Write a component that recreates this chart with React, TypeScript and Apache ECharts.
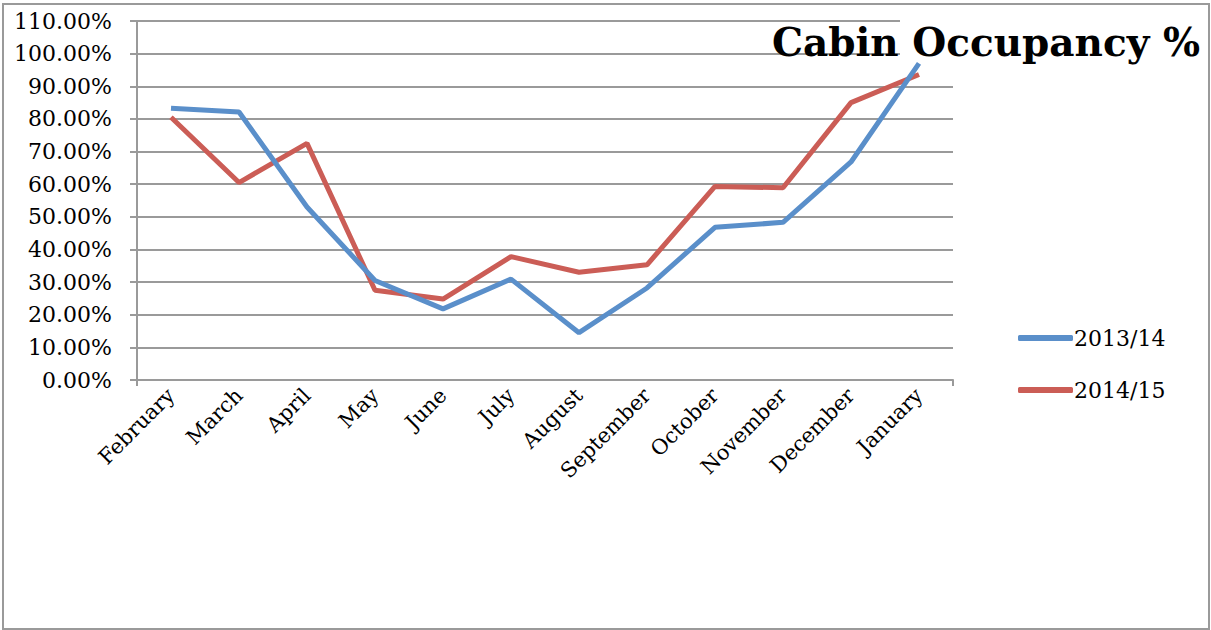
import React, { useEffect, useRef } from "react";
import * as echarts from "echarts";

const categories = [
  "February", "March", "April", "May", "June", "July",
  "August", "September", "October", "November", "December", "January",
];
const series2013 = [83.3, 82.1, 53.0, 30.5, 21.8, 30.9, 14.5, 28.2, 46.8, 48.3, 66.8, 97.0];
const series2014 = [80.5, 60.5, 72.5, 27.5, 24.8, 37.8, 33.0, 35.3, 59.3, 58.9, 85.0, 93.6];
const seriesNames = ["2013/14", "2014/15"];
const colors = ["#5A8FCA", "#CB5D56"];
const titleText = "Cabin Occupancy %";

const FONT = "DejaVu Serif";

export default function App() {
  const ref = useRef<HTMLDivElement>(null);
  useEffect(() => {
    document.body.style.margin = "0";
    const chart = echarts.init(ref.current!, null, { renderer: "svg" });
    chart.setOption({
      animation: false,
      backgroundColor: "#ffffff",
      grid: { left: 137, right: 258, top: 21, bottom: 250, containLabel: false },
      xAxis: {
        type: "category",
        data: categories,
        boundaryGap: true,
        axisLine: { lineStyle: { color: "#9a9a9a", width: 2 } },
        axisTick: {
          show: true,
          length: 6,
          interval: (index: number) => index === 0,
          lineStyle: { color: "#9a9a9a", width: 2 },
        },
        axisLabel: {
          rotate: 45,
          interval: 0,
          margin: 12,
          color: "#000",
          fontFamily: FONT,
          fontSize: 21,
        },
        splitLine: { show: false },
      },
      yAxis: {
        type: "value",
        min: 0,
        max: 110,
        interval: 10,
        axisLine: { show: true, lineStyle: { color: "#9a9a9a", width: 2 } },
        axisTick: { show: true, length: 7, lineStyle: { color: "#9a9a9a", width: 2 } },
        axisLabel: {
          margin: 25,
          color: "#000",
          fontFamily: FONT,
          fontSize: 22,
          formatter: (v: number) => v.toFixed(2) + "%",
        },
        splitLine: { show: true, lineStyle: { color: "#9a9a9a", width: 2 } },
      },
      legend: {
        orient: "vertical",
        left: 1013,
        top: 322,
        itemWidth: 55,
        itemHeight: 6,
        itemGap: 30,
        icon: "roundRect",
        textStyle: { color: "#000", fontFamily: FONT, fontSize: 22, padding: [0, 0, 0, -4] },
        data: seriesNames,
      },
      series: [
        {
          name: seriesNames[0],
          type: "line",
          data: series2013,
          symbol: "none",
          lineStyle: { color: colors[0], width: 5 },
          itemStyle: { color: colors[0] },
          z: 3,
        },
        {
          name: seriesNames[1],
          type: "line",
          data: series2014,
          symbol: "none",
          lineStyle: { color: colors[1], width: 5 },
          itemStyle: { color: colors[1] },
          z: 2,
        },
      ],
      graphic: [
        {
          type: "rect",
          z: 100,
          shape: { x: 3, y: 4, width: 1206, height: 625 },
          style: { fill: "none", stroke: "#9a9a9a", lineWidth: 2 },
        },
        {
          type: "rect",
          z: 100,
          shape: { x: 900, y: 14, width: 304, height: 46 },
          style: { fill: "#ffffff" },
        },
        {
          type: "text",
          z: 101,
          x: 1200,
          y: 42,
          style: {
            text: titleText,
            fill: "#000",
            font: `bold 39px "${FONT}"`,
            align: "right",
            verticalAlign: "middle",
          },
        },
      ],
    });
    return () => chart.dispose();
  }, []);
  return <div ref={ref} style={{ position: "fixed", left: 0, top: 0, width: 1211, height: 630 }} />;
}
